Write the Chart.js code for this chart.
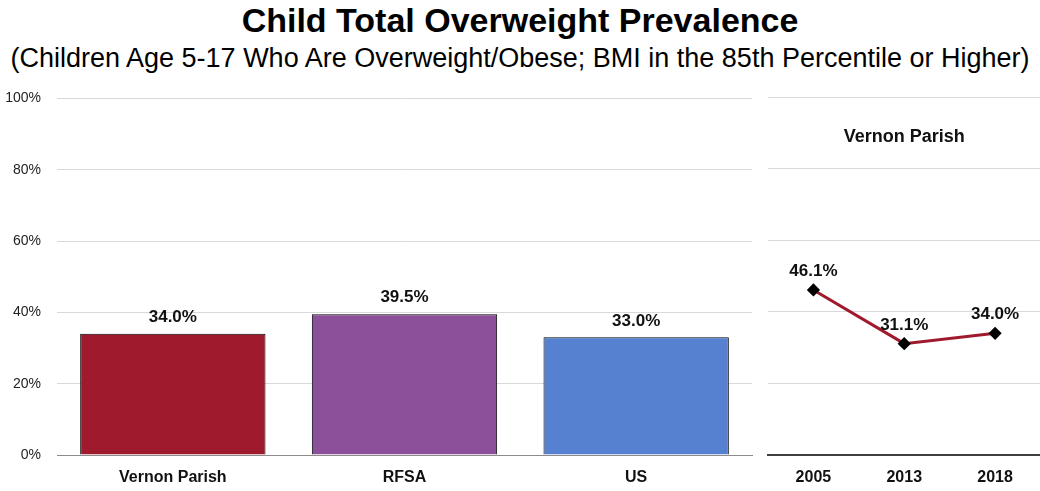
<!DOCTYPE html>
<html lang="en">
<head>
<meta charset="UTF-8">
<title>Child Total Overweight Prevalence</title>
<script src="https://cdn.jsdelivr.net/npm/chart.js@4"></script>
<style>
  body { margin: 0; background: #fff; width: 1040px; height: 491px; position: relative; overflow: hidden; font-family: 'Liberation Sans', Arial, sans-serif; }
  h1 { position: absolute; top: 0px; left: 0; width: 1040px; margin: 0; text-align: center; font-size: 34px; font-weight: bold; color: #000; line-height: 40px; }
  h2 { position: absolute; top: 42px; left: 0; width: 1040px; margin: 0; text-align: center; font-size: 27px; font-weight: normal; color: #000; line-height: 32px; white-space: nowrap; }
  #barWrap { position: absolute; left: 0; top: 74px; width: 760px; height: 417px; }
  #lineWrap { position: absolute; left: 760px; top: 85px; width: 288px; height: 406px; }
</style>
</head>
<body>
<h1>Child Total Overweight Prevalence</h1>
<h2>(Children Age 5-17 Who Are Overweight/Obese; BMI in the 85th Percentile or Higher)</h2>
<div id="barWrap"><canvas id="barChart"></canvas></div>
<div id="lineWrap"><canvas id="lineChart"></canvas></div>

<script>
// data
const areas = ['Vernon Parish', 'RFSA', 'US'];
const areaValues = [34.0, 39.5, 33.0];
const areaColors = ['#a01a2e', '#8c4f99', '#5680d0'];

const years = ['2005', '2013', '2018'];
const parishValues = [46.1, 31.1, 34.0];
const parishName = 'Vernon Parish';

const font = "'Liberation Sans', Arial, sans-serif";
const gridColor = '#d9d9d9';

// draws the value above every bar / point
const valueLabels = {
    id: 'valueLabels',
    afterDatasetsDraw(chart, args, opts) {
        const ctx = chart.ctx;
        ctx.save();
        ctx.font = 'bold 17px ' + font;
        ctx.fillStyle = '#111';
        ctx.textAlign = 'center';
        ctx.textBaseline = 'bottom';
        chart.data.datasets.forEach((ds, i) => {
            chart.getDatasetMeta(i).data.forEach((el, j) => {
                ctx.fillText(ds.data[j].toFixed(1) + '%', el.x, el.y - opts.gap);
            });
        });
        ctx.restore();
    }
};

// name of the place inside the small chart
const insideTitle = {
    id: 'insideTitle',
    afterDraw(chart, args, opts) {
        const ctx = chart.ctx;
        const area = chart.chartArea;
        ctx.save();
        ctx.font = 'bold 18px ' + font;
        ctx.fillStyle = '#111';
        ctx.textAlign = 'center';
        ctx.textBaseline = 'middle';
        ctx.fillText(opts.text, (area.left + area.right) / 2, area.top + 40);
        ctx.restore();
    }
};

new Chart(document.getElementById('barChart'), {
    type: 'bar',
    data: {
        labels: areas,
        datasets: [{
            data: areaValues,
            backgroundColor: areaColors,
            borderColor: '#000',
            borderWidth: 1,
            borderSkipped: 'bottom',
            barPercentage: 0.8,
            categoryPercentage: 1
        }]
    },
    options: {
        responsive: true,
        maintainAspectRatio: false,
        animation: false,
        layout: { padding: { top: 1, right: 8, left: 0, bottom: 0 } },
        plugins: {
            legend: { display: false },
            tooltip: { enabled: false },
            valueLabels: { gap: 8 }
        },
        scales: {
            x: {
                grid: { display: false, drawTicks: false },
                border: { color: '#8c8c8c', width: 1 },
                ticks: { color: '#111', font: { family: font, size: 16, weight: 'bold' }, padding: 13 },
                afterFit(scale) { scale.height = 36; }
            },
            y: {
                min: 0,
                max: 100,
                ticks: { stepSize: 20, color: '#222', font: { family: font, size: 14 }, padding: 16, callback: v => v + '%' },
                grid: { color: gridColor, drawTicks: false },
                border: { display: false },
                afterFit(scale) { scale.width = 57; }
            }
        }
    },
    plugins: [valueLabels]
});

new Chart(document.getElementById('lineChart'), {
    type: 'line',
    data: {
        labels: years,
        datasets: [{
            data: parishValues,
            borderColor: '#a01a2e',
            borderWidth: 3,
            pointStyle: 'rectRot',
            pointRadius: 4.5,
            pointBackgroundColor: '#000',
            pointBorderColor: '#000',
            tension: 0
        }]
    },
    options: {
        responsive: true,
        maintainAspectRatio: false,
        animation: false,
        layout: { padding: { top: 12, right: 0, left: 0, bottom: 0 } },
        plugins: {
            legend: { display: false },
            tooltip: { enabled: false },
            valueLabels: { gap: 10 },
            insideTitle: { text: parishName }
        },
        scales: {
            x: {
                offset: true,
                grid: { display: false, drawTicks: false },
                border: { color: '#404040', width: 2 },
                ticks: { color: '#111', font: { family: font, size: 16, weight: 'bold' }, padding: 13 },
                afterFit(scale) { scale.height = 36; }
            },
            y: {
                min: 0,
                max: 100,
                ticks: { stepSize: 20, display: false },
                grid: { color: gridColor, drawTicks: false },
                border: { display: false },
                afterFit(scale) { scale.width = 8; }
            }
        }
    },
    plugins: [valueLabels, insideTitle]
});
</script>
</body>
</html>
